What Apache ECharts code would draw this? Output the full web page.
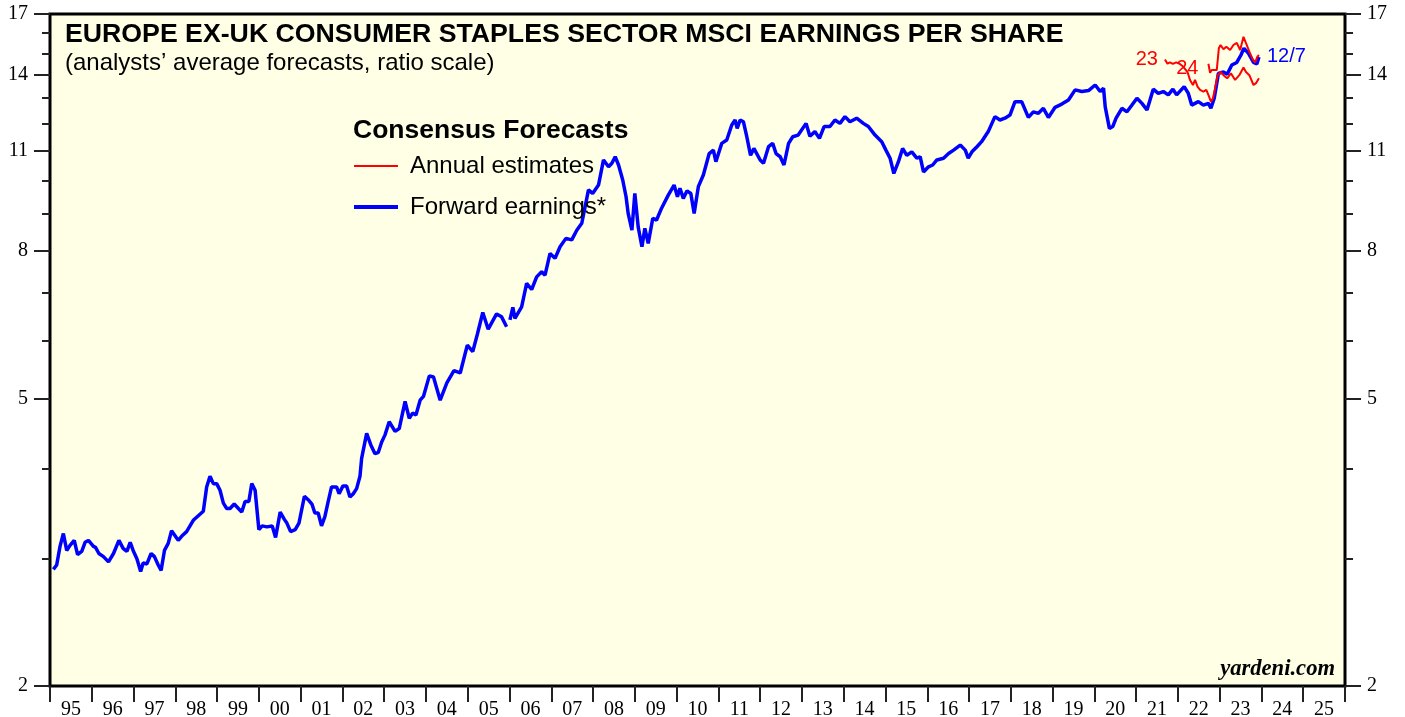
<!DOCTYPE html>
<html>
<head>
<meta charset="utf-8">
<script src="https://cdn.jsdelivr.net/npm/echarts@6/dist/echarts.min.js"></script>
<style>
  html, body { margin: 0; padding: 0; background: #fff; }
  #main { width: 1405px; height: 717px; }
</style>
</head>
<body>
<div id="main"></div>
<script>
// year labels under the x axis (one per calendar year, centred between ticks)
const yearLabels = ['95', '96', '97', '98', '99', '00', '01', '02', '03', '04', '05', '06', '07', '08', '09',
  '10', '11', '12', '13', '14', '15', '16', '17', '18', '19', '20', '21', '22', '23', '24', '25'];
const majorTicks = [2, 5, 8, 11, 14, 17];
const minorTicks = [3, 4, 6, 7, 9, 10, 12, 13, 15, 16];

// forward earnings (decimal years / values)
const fwdDates = [
  1995.08, 1995.16, 1995.24, 1995.32, 1995.40, 1995.48, 1995.58, 1995.66, 1995.76, 1995.84, 1995.92,
  1996.04, 1996.09, 1996.17, 1996.28, 1996.40, 1996.52, 1996.65, 1996.75, 1996.84, 1996.92, 1996.99,
  1997.08, 1997.17, 1997.23, 1997.32, 1997.42, 1997.50, 1997.59, 1997.66, 1997.74, 1997.83, 1997.91, 1997.99,
  1998.07, 1998.17, 1998.27, 1998.43, 1998.55, 1998.67, 1998.75, 1998.83, 1998.91, 1998.99,
  1999.07, 1999.15, 1999.23, 1999.31, 1999.41, 1999.51, 1999.59, 1999.67, 1999.76, 1999.83, 1999.91,
  2000.00, 2000.08, 2000.19, 2000.32, 2000.40, 2000.51, 2000.61, 2000.67, 2000.76, 2000.87, 2000.96,
  2001.09, 2001.18, 2001.27, 2001.34, 2001.42, 2001.50, 2001.58, 2001.66, 2001.74, 2001.86, 2001.92,
  2002.01, 2002.10, 2002.18, 2002.26, 2002.34, 2002.42, 2002.46, 2002.58, 2002.68, 2002.78, 2002.86, 2002.94,
  2003.02, 2003.12, 2003.26, 2003.36, 2003.50, 2003.60, 2003.68, 2003.76, 2003.86, 2003.94,
  2004.08, 2004.18, 2004.34, 2004.50, 2004.67, 2004.82, 2004.94, 2004.99,
  2005.12, 2005.23, 2005.36, 2005.49, 2005.69, 2005.81, 2005.93, 2005.97,
  2006.01, 2006.08, 2006.13, 2006.29, 2006.41, 2006.53, 2006.65, 2006.77, 2006.85, 2006.97,
  2007.09, 2007.21, 2007.35, 2007.49, 2007.61, 2007.73, 2007.89, 2007.99,
  2008.13, 2008.25, 2008.37, 2008.45, 2008.53, 2008.61, 2008.71, 2008.79, 2008.84, 2008.93,
  2009.00, 2009.08, 2009.17, 2009.24, 2009.32, 2009.43, 2009.52, 2009.64, 2009.80, 2009.94,
  2010.02, 2010.08, 2010.16, 2010.25, 2010.34, 2010.42, 2010.52, 2010.64, 2010.78, 2010.88, 2010.94,
  2011.08, 2011.20, 2011.32, 2011.40, 2011.45, 2011.52, 2011.60, 2011.68, 2011.77, 2011.85,
  2012.00, 2012.08, 2012.20, 2012.30, 2012.38, 2012.48, 2012.57, 2012.68, 2012.78, 2012.91,
  2013.10, 2013.19, 2013.31, 2013.42, 2013.53, 2013.67, 2013.79, 2013.91,
  2014.03, 2014.15, 2014.31, 2014.47, 2014.59, 2014.75, 2014.91,
  2015.01, 2015.11, 2015.20, 2015.31, 2015.41, 2015.51, 2015.63, 2015.75, 2015.83, 2015.91,
  2016.03, 2016.13, 2016.23, 2016.39, 2016.51, 2016.63, 2016.79, 2016.91, 2016.98,
  2017.07, 2017.19, 2017.30, 2017.46, 2017.62, 2017.74, 2017.86, 2017.98,
  2018.10, 2018.26, 2018.42, 2018.54, 2018.66, 2018.78, 2018.90,
  2019.06, 2019.22, 2019.38, 2019.54, 2019.70, 2019.86,
  2020.02, 2020.14, 2020.22, 2020.26, 2020.36, 2020.44, 2020.52, 2020.66, 2020.78, 2020.90,
  2021.02, 2021.14, 2021.26, 2021.41, 2021.53, 2021.65, 2021.77, 2021.88, 2021.97,
  2022.15, 2022.25, 2022.33, 2022.49, 2022.61, 2022.73, 2022.79, 2022.87, 2022.97,
  2023.09, 2023.18, 2023.29, 2023.41, 2023.51, 2023.58, 2023.69, 2023.81, 2023.89, 2023.94
];
const fwdValues = [
  2.90, 2.94, 3.12, 3.25, 3.08, 3.13, 3.18, 3.04, 3.07, 3.16, 3.18,
  3.12, 3.11, 3.05, 3.02, 2.97, 3.05, 3.18, 3.10, 3.07, 3.16, 3.08,
  3.00, 2.88, 2.96, 2.95, 3.05, 3.02, 2.94, 2.89, 3.08, 3.15, 3.28, 3.23,
  3.18, 3.23, 3.27, 3.39, 3.44, 3.49, 3.77, 3.90, 3.81, 3.81,
  3.73, 3.58, 3.52, 3.52, 3.57, 3.52, 3.48, 3.60, 3.60, 3.81, 3.73,
  3.29, 3.33, 3.32, 3.33, 3.21, 3.48, 3.40, 3.36, 3.27, 3.29, 3.36,
  3.66, 3.62, 3.57, 3.47, 3.47, 3.33, 3.43, 3.60, 3.77, 3.77, 3.69,
  3.78, 3.78, 3.65, 3.69, 3.75, 3.90, 4.13, 4.47, 4.31, 4.19, 4.21, 4.35,
  4.45, 4.64, 4.50, 4.54, 4.95, 4.69, 4.77, 4.74, 4.97, 5.03,
  5.37, 5.35, 4.97, 5.25, 5.46, 5.42, 5.77, 5.92,
  5.80, 6.13, 6.57, 6.23, 6.54, 6.48, 6.28, null,
  6.42, 6.68, 6.45, 6.69, 7.21, 7.07, 7.36, 7.48, 7.40, 7.93,
  7.81, 8.10, 8.32, 8.28, 8.54, 8.73, 9.71, 9.60,
  9.86, 10.68, 10.45, 10.57, 10.79, 10.51, 10.02, 9.50, 9.01, 8.54,
  9.60, 8.63, 8.10, 8.59, 8.19, 8.87, 8.82, 9.16, 9.55, 9.86,
  9.50, 9.76, 9.45, 9.68, 9.60, 9.01, 9.81, 10.18, 10.90, 11.02, 10.62,
  11.26, 11.38, 11.94, 12.13, 11.81, 12.13, 12.06, 11.50, 10.84, 11.08,
  10.68, 10.57, 11.14, 11.26, 10.90, 10.79, 10.51, 11.26, 11.50, 11.56,
  12.00, 11.52, 11.69, 11.44, 11.88, 11.88, 12.13, 12.00,
  12.26, 12.06, 12.20, 12.00, 11.88, 11.56, 11.32,
  11.02, 10.74, 10.23, 10.62, 11.08, 10.84, 10.96, 10.74, 10.79, 10.28,
  10.45, 10.51, 10.68, 10.74, 10.90, 11.02, 11.20, 11.02, 10.74,
  10.96, 11.14, 11.32, 11.69, 12.26, 12.13, 12.20, 12.32,
  12.86, 12.86, 12.23, 12.45, 12.39, 12.59, 12.23,
  12.63, 12.76, 12.93, 13.35, 13.28, 13.32,
  13.56, 13.28, 13.42, 12.65, 11.81, 11.88, 12.20, 12.59, 12.45, 12.72,
  13.00, 12.79, 12.52, 13.38, 13.20, 13.28, 13.14, 13.38, 13.14,
  13.49, 13.20, 12.72, 12.86, 12.72, 12.79, 12.59, 13.00, 14.07,
  14.13, 14.03, 14.45, 14.57, 14.92, 15.24, 15.00, 14.57, 14.50, 14.83
];

// annual estimates for 2023
const est23Dates = [
  2021.69, 2021.75, 2021.81, 2021.88, 2021.96, 2022.04, 2022.13, 2022.23, 2022.29, 2022.36,
  2022.41, 2022.47, 2022.53, 2022.61, 2022.68, 2022.73, 2022.79, 2022.84, 2022.89, 2022.95,
  2023.03, 2023.09, 2023.18, 2023.27, 2023.37, 2023.47, 2023.57, 2023.63, 2023.71, 2023.81,
  2023.87, 2023.94
];
const est23Values = [
  14.71, 14.51, 14.57, 14.50, 14.57, 14.51, 14.37, 14.13, 13.78, 13.56,
  13.78, 13.49, 13.35, 13.28, 13.35, 13.14, 12.86, 13.00, 13.42, 13.99,
  14.13, 13.99, 13.85, 14.07, 13.78, 13.99, 14.34, 14.13, 13.99, 13.56,
  13.64, 13.85
];

// annual estimates for 2024
const est24Dates = [
  2022.73, 2022.77, 2022.81, 2022.93, 2022.98, 2023.02, 2023.09, 2023.16, 2023.25, 2023.33,
  2023.41, 2023.49, 2023.57, 2023.63, 2023.71, 2023.79, 2023.85, 2023.90, 2023.94
];
const est24Values = [
  14.51, 14.10, 14.22, 14.22, 15.24, 15.40, 15.20, 15.32, 15.16, 15.40,
  15.51, 15.16, 15.81, 15.49, 15.08, 14.71, 14.57, 14.83, 14.92
];

function pairs(xs, ys) {
  return xs.map((x, i) => [x, ys[i]]);
}

const sans = 'Liberation Sans, Arial, sans-serif';
const serif = 'Liberation Serif, Times New Roman, serif';

// one log axis per side for the labelled ticks, one more for the short ticks
function yAxisFor(position, ticks, len, labels) {
  return {
    type: 'log',
    logBase: 10,
    min: 2,
    max: 17,
    position: position,
    axisLine: { show: false },
    splitLine: { show: false },
    axisTick: { show: true, customValues: ticks, length: len, lineStyle: { color: '#222', width: 2 } },
    axisLabel: {
      show: labels,
      customValues: ticks,
      margin: 22,
      color: '#000',
      fontFamily: serif,
      fontSize: 20
    }
  };
}

var myChart = echarts.init(document.getElementById('main'));

var option = {
  animation: false,
  backgroundColor: '#fff',
  title: [
    {
      text: 'EUROPE EX-UK CONSUMER STAPLES SECTOR MSCI EARNINGS PER SHARE',
      left: 65, top: 21, padding: 0,
      textStyle: { fontFamily: sans, fontWeight: 'bold', fontSize: 26.7, color: '#000' }
    },
    {
      text: '(analysts’ average forecasts, ratio scale)',
      left: 65, top: 51, padding: 0,
      textStyle: { fontFamily: sans, fontWeight: 'normal', fontSize: 24, color: '#000' }
    },
    {
      text: 'Consensus Forecasts',
      left: 353, top: 117, padding: 0,
      textStyle: { fontFamily: sans, fontWeight: 'bold', fontSize: 26.5, color: '#000' }
    },
    {
      text: 'yardeni.com',
      right: 70, top: 658, padding: 0,
      textStyle: { fontFamily: serif, fontWeight: 'bold', fontStyle: 'italic', fontSize: 22.6, color: '#000' }
    }
  ],
  legend: {
    orient: 'vertical',
    left: 352,
    top: 154,
    padding: 0,
    itemWidth: 44,
    itemHeight: 14,
    itemGap: 17,
    itemStyle: { color: 'rgba(0,0,0,0)', borderWidth: 0, opacity: 0 },
    textStyle: { fontFamily: sans, fontSize: 24, color: '#000', padding: [0, 0, 0, 7] },
    data: [
      { name: 'Annual estimates', lineStyle: { width: 2 } },
      { name: 'Forward earnings*', lineStyle: { width: 4 } }
    ]
  },
  grid: {
    left: 50, right: 60, top: 14, bottom: 31,
    outerBoundsMode: 'none',
    show: true,
    backgroundColor: '#ffffe6',
    borderColor: '#000',
    borderWidth: 3
  },
  xAxis: [
    {
      type: 'value', min: 1995, max: 2026,
      show: false
    },
    {
      type: 'category',
      position: 'bottom',
      data: yearLabels,
      boundaryGap: true,
      axisLine: { show: false },
      axisTick: { show: true, length: 16, lineStyle: { color: '#222', width: 2 } },
      axisLabel: { interval: 0, margin: 14, color: '#000', fontFamily: serif, fontSize: 20 },
      splitLine: { show: false }
    }
  ],
  yAxis: [
    yAxisFor('left', majorTicks, 16, true),
    yAxisFor('left', minorTicks, 8, false),
    yAxisFor('right', majorTicks, 16, true),
    yAxisFor('right', minorTicks, 8, false)
  ],
  series: [
    {
      name: 'Forward earnings*',
      type: 'line',
      xAxisIndex: 0, yAxisIndex: 0,
      symbol: 'none',
      data: pairs(fwdDates, fwdValues),
      lineStyle: { color: '#0000ff', width: 3.5 },
      itemStyle: { color: '#0000ff' },
      endLabel: {
        show: true, formatter: '12/7', distance: 8,
        color: '#0000ff', fontFamily: sans, fontSize: 20
      },
      z: 3
    },
    {
      name: 'Annual estimates',
      type: 'line',
      xAxisIndex: 0, yAxisIndex: 0,
      symbol: 'none',
      data: pairs(est23Dates, est23Values),
      lineStyle: { color: '#ff0000', width: 2 },
      itemStyle: { color: '#ff0000' },
      markPoint: {
        symbol: 'circle', symbolSize: 0,
        label: { show: true, position: 'left', distance: 7, color: '#ff0000', fontFamily: sans, fontSize: 20, formatter: '23' },
        data: [{ coord: [est23Dates[0], est23Values[0]] }]
      },
      z: 4
    },
    {
      name: 'Annual estimates',
      type: 'line',
      xAxisIndex: 0, yAxisIndex: 0,
      symbol: 'none',
      data: pairs(est24Dates, est24Values),
      lineStyle: { color: '#ff0000', width: 2 },
      itemStyle: { color: '#ff0000' },
      markPoint: {
        symbol: 'circle', symbolSize: 0,
        label: { show: true, position: 'left', distance: 10, offset: [0, 5], color: '#ff0000', fontFamily: sans, fontSize: 20, formatter: '24' },
        data: [{ coord: [est24Dates[0], est24Values[0]] }]
      },
      z: 4
    }
  ]
};

myChart.setOption(option);
</script>
</body>
</html>
